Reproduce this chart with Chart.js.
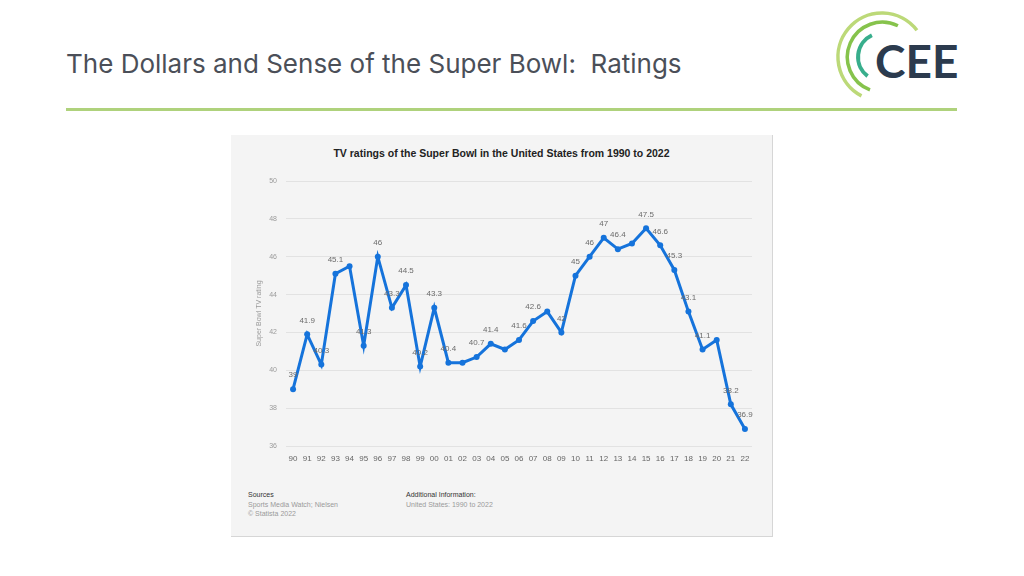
<!DOCTYPE html>
<html>
<head>
<meta charset="utf-8">
<script src="https://cdn.jsdelivr.net/npm/chart.js@4/dist/chart.umd.min.js"></script>
<style>
    html, body { margin: 0; padding: 0; background: #fff; }
    body { width: 1024px; height: 576px; position: relative; overflow: hidden; font-family: "Liberation Sans", Arial, sans-serif; }
    .slide-title { position: absolute; left: 66px; top: 48px; font-family: Inter, "Open Sans", sans-serif; font-size: 26px; color: #4b4f58; white-space: nowrap; }
    .rule { position: absolute; left: 66px; top: 108px; width: 891px; height: 3px; background: #afd27c; }
    .logo { position: absolute; left: 820px; top: 8px; }
    .statista { position: absolute; left: 231px; top: 135px; width: 541px; height: 401px; background: #f4f4f4; border-right: 1px solid #d6d6d6; border-bottom: 1px solid #d6d6d6; }
    .statista canvas { position: absolute; left: 0; top: 0; }
    .chart-title { position: absolute; left: 0; width: 541px; top: 12px; text-align: center; font-weight: bold; font-size: 10.5px; color: #222; }
    .foot { position: absolute; top: 355px; font-size: 7px; line-height: 9.5px; color: #9a9a9a; }
    .foot b { font-weight: normal; color: #333; }
</style>
</head>
<body>
<div class="slide-title">The Dollars and Sense of the Super Bowl:&nbsp; Ratings</div>
<div class="rule"></div>
<svg class="logo" width="150" height="100" viewBox="820 8 150 100">
    <path d="M 916.9 30.2 A 44 44 0 1 0 861.5 95.9" fill="none" stroke="#bcd978" stroke-width="3.5"/>
    <path d="M 897.9 25.8 A 35 35 0 1 0 870.0 89.9" fill="none" stroke="#86c34c" stroke-width="3.5"/>
    <path d="M 871.9 35.3 A 24 24 0 0 0 867.6 76.2" fill="none" stroke="#38ae8c" stroke-width="4"/>
    <text x="875" y="78" font-family="Lato, 'Open Sans', sans-serif" font-weight="bold" font-size="46" fill="#2c3b4e">CEE</text>
</svg>
<div class="statista">
    <div class="chart-title">TV ratings of the Super Bowl in the United States from 1990 to 2022</div>
    <canvas id="chart" width="541" height="340"></canvas>
    <div class="foot" style="left:17px"><b>Sources</b><br>Sports Media Watch; Nielsen<br>© Statista 2022</div>
    <div class="foot" style="left:175px"><b>Additional Information:</b><br>United States: 1990 to 2022</div>
</div>
<script>
var years = ["90","91","92","93","94","95","96","97","98","99","00","01","02","03","04","05","06","07","08","09","10","11","12","13","14","15","16","17","18","19","20","21","22"];
var ratings = [39, 41.9, 40.3, 45.1, 45.5, 41.3, 46, 43.3, 44.5, 40.2, 43.3, 40.4, 40.4, 40.7, 41.4, 41.1, 41.6, 42.6, 43.1, 42, 45, 46, 47, 46.4, 46.7, 47.5, 46.6, 45.3, 43.1, 41.1, 41.6, 38.2, 36.9];
// statista hides some labels where they would collide
var showLabel = [1,1,1,1,0,1,1,1,1,1,1,1,0,1,1,0,1,1,0,1,1,1,1,1,0,1,1,1,1,1,0,1,1];
var yTicks = [36, 38, 40, 42, 44, 46, 48, 50];

(function(global){
    "use strict";

    var valueLabels = {
        id: "valueLabels",
        afterDatasetsDraw: function(chart) {
            var ctx = chart.ctx;
            var meta = chart.getDatasetMeta(0);
            ctx.save();
            ctx.font = "8px 'Liberation Sans', Arial, sans-serif";
            ctx.fillStyle = "#6b6b6b";
            ctx.textAlign = "center";
            ctx.textBaseline = "middle";
            for(var i = 0; i < meta.data.length; i++) {
                if(!showLabel[i]) {
                    continue;
                }
                var pt = meta.data[i];
                ctx.fillText(String(ratings[i]), pt.x, pt.y - 14);
            }
            ctx.restore();
        }
    };

    var ctx = document.getElementById("chart").getContext("2d");

    global.ratingsChart = new Chart(ctx, {
        type: "line",
        data: {
            labels: years,
            datasets: [{
                data: ratings,
                borderColor: "#1573db",
                backgroundColor: "#1573db",
                borderWidth: 3,
                pointRadius: 3,
                pointBorderWidth: 0,
                tension: 0
            }]
        },
        options: {
            responsive: false,
            animation: false,
            layout: { padding: { left: 24, right: 20, top: 46, bottom: 0 } },
            plugins: {
                legend: { display: false },
                tooltip: { enabled: false }
            },
            scales: {
                x: {
                    offset: true,
                    grid: { display: false, drawTicks: false },
                    border: { display: false },
                    ticks: {
                        padding: 8,
                        color: "#666",
                        font: { size: 8, family: "'Liberation Sans', Arial, sans-serif" },
                        maxRotation: 0,
                        autoSkip: false
                    },
                    afterFit: function(scale) { scale.height = 29; }
                },
                y: {
                    min: 36,
                    max: 50,
                    afterBuildTicks: function(scale) {
                        scale.ticks = yTicks.map(function(v){ return { value: v }; });
                    },
                    grid: { color: "#e2e2e2", drawTicks: false },
                    border: { display: false },
                    ticks: {
                        padding: 9,
                        color: "#9a9a9a",
                        font: { size: 7, family: "'Liberation Sans', Arial, sans-serif" }
                    },
                    title: {
                        display: true,
                        text: "Super Bowl TV rating",
                        color: "#9a9a9a",
                        padding: 0,
                        font: { size: 7, family: "'Liberation Sans', Arial, sans-serif" }
                    },
                    afterFit: function(scale) { scale.width = 31; }
                }
            }
        },
        plugins: [valueLabels]
    });

})(window);
</script>
</body>
</html>
